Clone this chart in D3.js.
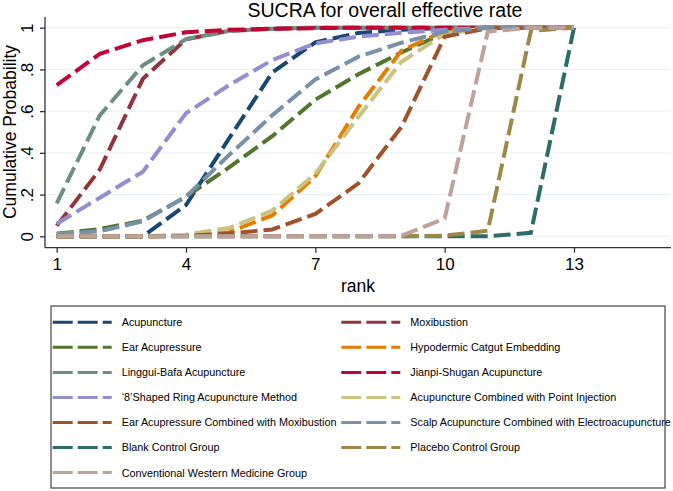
<!DOCTYPE html>
<html>
<head>
<meta charset="utf-8">
<script src="https://cdn.jsdelivr.net/npm/d3@7"></script>
<style>
  body { margin: 0; background: #fff; }
  text { font-family: "Liberation Sans", Arial, Helvetica, sans-serif; fill: #000; }
</style>
</head>
<body>
<div id="dataviz"></div>
<script>
// ranks on the x axis
var ranks = [1, 2, 3, 4, 5, 6, 7, 8, 9, 10, 11, 12, 13];
var xTicks = [1, 4, 7, 10, 13];
var yTicks = [0, 0.2, 0.4, 0.6, 0.8, 1];
var yTickLabels = ["0", ".2", ".4", ".6", ".8", "1"];

// treatments in stata plotting order
var treatments = [
    "Acupuncture",
    "Moxibustion",
    "Ear Acupressure",
    "Hypodermic Catgut Embedding",
    "Linggui-Bafa Acupuncture",
    "Jianpi-Shugan Acupuncture",
    "\u20188\u2019Shaped Ring Acupuncture Method",
    "Acupuncture Combined with Point Injection",
    "Ear Acupressure Combined with Moxibustion",
    "Scalp Acupuncture Combined with Electroacupuncture",
    "Blank Control Group",
    "Placebo Control Group",
    "Conventional Western Medicine Group"
];

// cumulative probabilities, rank 1..13
var acupuncture    = [0, 0, 0, 0.15, 0.47, 0.785, 0.93, 0.975, 0.99, 1, 1, 1, 1];
var moxibustion    = [0.05, 0.32, 0.755, 0.945, 0.985, 0.995, 1, 1, 1, 1, 1, 1, 1];
var earAcupressure = [0.012, 0.035, 0.075, 0.19, 0.33, 0.48, 0.655, 0.777, 0.882, 0.975, 1, 1, 1];
var hypodermic     = [0, 0, 0, 0.003, 0.02, 0.1, 0.288, 0.62, 0.89, 0.985, 1, 1, 1];
var linggui        = [0.158, 0.58, 0.82, 0.945, 0.985, 0.995, 1, 1, 1, 1, 1, 1, 1];
var jianpi         = [0.725, 0.875, 0.94, 0.978, 0.99, 0.995, 0.998, 1, 1, 1, 1, 1, 1];
var shapedRing     = [0.06, 0.185, 0.31, 0.59, 0.725, 0.845, 0.925, 0.957, 0.976, 0.99, 1, 1, 1];
var pointInjection = [0, 0, 0, 0.008, 0.04, 0.123, 0.30, 0.573, 0.837, 0.97, 1, 1, 1];
var earMoxi        = [0, 0, 0, 0.003, 0.013, 0.033, 0.107, 0.254, 0.525, 0.957, 0.997, 1, 1];
var scalp          = [0.012, 0.024, 0.072, 0.19, 0.39, 0.58, 0.752, 0.861, 0.928, 0.981, 1, 1, 1];
var blank          = [0, 0, 0, 0, 0, 0, 0, 0, 0, 0, 0, 0.017, 1];
var placebo        = [0, 0, 0, 0, 0, 0, 0, 0, 0, 0.003, 0.027, 0.985, 1];
var western        = [0, 0, 0, 0, 0, 0, 0, 0, 0.003, 0.085, 0.981, 1, 1];

var seriesValues = [acupuncture, moxibustion, earAcupressure, hypodermic, linggui, jianpi,
    shapedRing, pointInjection, earMoxi, scalp, blank, placebo, western];

// s2color palette
var palette = ["#1a476f", "#90353b", "#55752f", "#e37e00", "#6e8e84", "#c10534", "#938dd2",
    "#cac27e", "#a0522d", "#7890a8", "#2d6d66", "#9c8847", "#bfa19c"];

var width = 673, height = 491;

var svg = d3.select("#dataviz")
    .append("svg")
        .attr("width", width)
        .attr("height", height);

var x = d3.scaleLinear().domain([1, 13]).range([56.7, 574]);
var y = d3.scaleLinear().domain([0, 1]).range([236.3, 27.7]);

var plotLeft = 45, plotRight = 671, plotTop = 17, plotBottom = 247.7;

// gridlines
svg.append("g")
    .selectAll("line")
    .data(yTicks)
    .enter()
    .append("line")
        .attr("x1", plotLeft)
        .attr("x2", plotRight)
        .attr("y1", function(d) { return y(d); })
        .attr("y2", function(d) { return y(d); })
        .attr("stroke", "#e9f1f3")
        .attr("stroke-width", 1);

// lines
var line = d3.line()
    .x(function(d, i) { return x(ranks[i]); })
    .y(function(d) { return y(d); });

svg.append("g")
    .selectAll("path")
    .data(seriesValues)
    .enter()
    .append("path")
        .attr("d", line)
        .attr("fill", "none")
        .attr("stroke", function(d, i) { return palette[i]; })
        .attr("stroke-width", 4)
        .attr("stroke-dasharray", "17,6");

// x axis
var xAxis = svg.append("g")
    .attr("transform", "translate(0," + plotBottom + ")")
    .call(d3.axisBottom(x).tickValues(xTicks).tickSize(5).tickPadding(3).tickFormat(d3.format("d")));
xAxis.select(".domain").attr("d", "M" + plotLeft + ",0H" + plotRight).attr("stroke", "#333").attr("stroke-width", 1.3);
xAxis.selectAll(".tick line").attr("stroke", "#333").attr("stroke-width", 1.3);
xAxis.selectAll(".tick text")
    .attr("font-size", "17px")
    .attr("font-family", "Liberation Sans, Arial, sans-serif")
    .attr("fill", "#000")
    .attr("dy", null)
    .attr("y", 22.5);

// y axis
var yAxis = svg.append("g")
    .attr("transform", "translate(" + plotLeft + ",0)")
    .call(d3.axisLeft(y).tickValues(yTicks).tickSize(5)
        .tickFormat(function(d, i) { return yTickLabels[i]; }));
yAxis.select(".domain").attr("d", "M0," + plotTop + "V" + plotBottom).attr("stroke", "#333").attr("stroke-width", 1.3);
yAxis.selectAll(".tick line").attr("stroke", "#333").attr("stroke-width", 1.3);
yAxis.selectAll(".tick text")
    .attr("font-size", "17px")
    .attr("font-family", "Liberation Sans, Arial, sans-serif")
    .attr("fill", "#000")
    .attr("x", null)
    .attr("dy", null)
    .attr("text-anchor", "middle")
    .attr("transform", "translate(-12,0) rotate(-90)");

// title
svg.append("text")
    .attr("x", 385)
    .attr("y", 16.5)
    .attr("font-size", "19.5px")
    .style("text-anchor", "middle")
    .text("SUCRA for overall effective rate");

// axis titles
svg.append("text")
    .attr("x", 358)
    .attr("y", 292)
    .attr("font-size", "17.5px")
    .style("text-anchor", "middle")
    .text("rank");

svg.append("text")
    .attr("transform", "translate(16,132) rotate(-90)")
    .attr("font-size", "17.5px")
    .style("text-anchor", "middle")
    .text("Cumulative Probability");

// legend
var legend = svg.append("g");
legend.append("rect")
    .attr("x", 51)
    .attr("y", 306)
    .attr("width", 614)
    .attr("height", 182)
    .attr("fill", "#fff")
    .attr("stroke", "#444")
    .attr("stroke-width", 1.2);

var colX = [52.7, 341.3];
treatments.forEach(function(name, i) {
    var col = i % 2, row = Math.floor(i / 2);
    var cy = 322.3 + row * 25.05;
    legend.append("line")
        .attr("x1", colX[col])
        .attr("x2", colX[col] + 59)
        .attr("y1", cy)
        .attr("y2", cy)
        .attr("stroke", palette[i])
        .attr("stroke-width", 3)
        .attr("stroke-dasharray", "20,5");
    legend.append("text")
        .attr("x", colX[col] + 69)
        .attr("y", cy + 3.9)
        .attr("font-size", "10.8px")
        .text(name);
});
</script>
</body>
</html>
